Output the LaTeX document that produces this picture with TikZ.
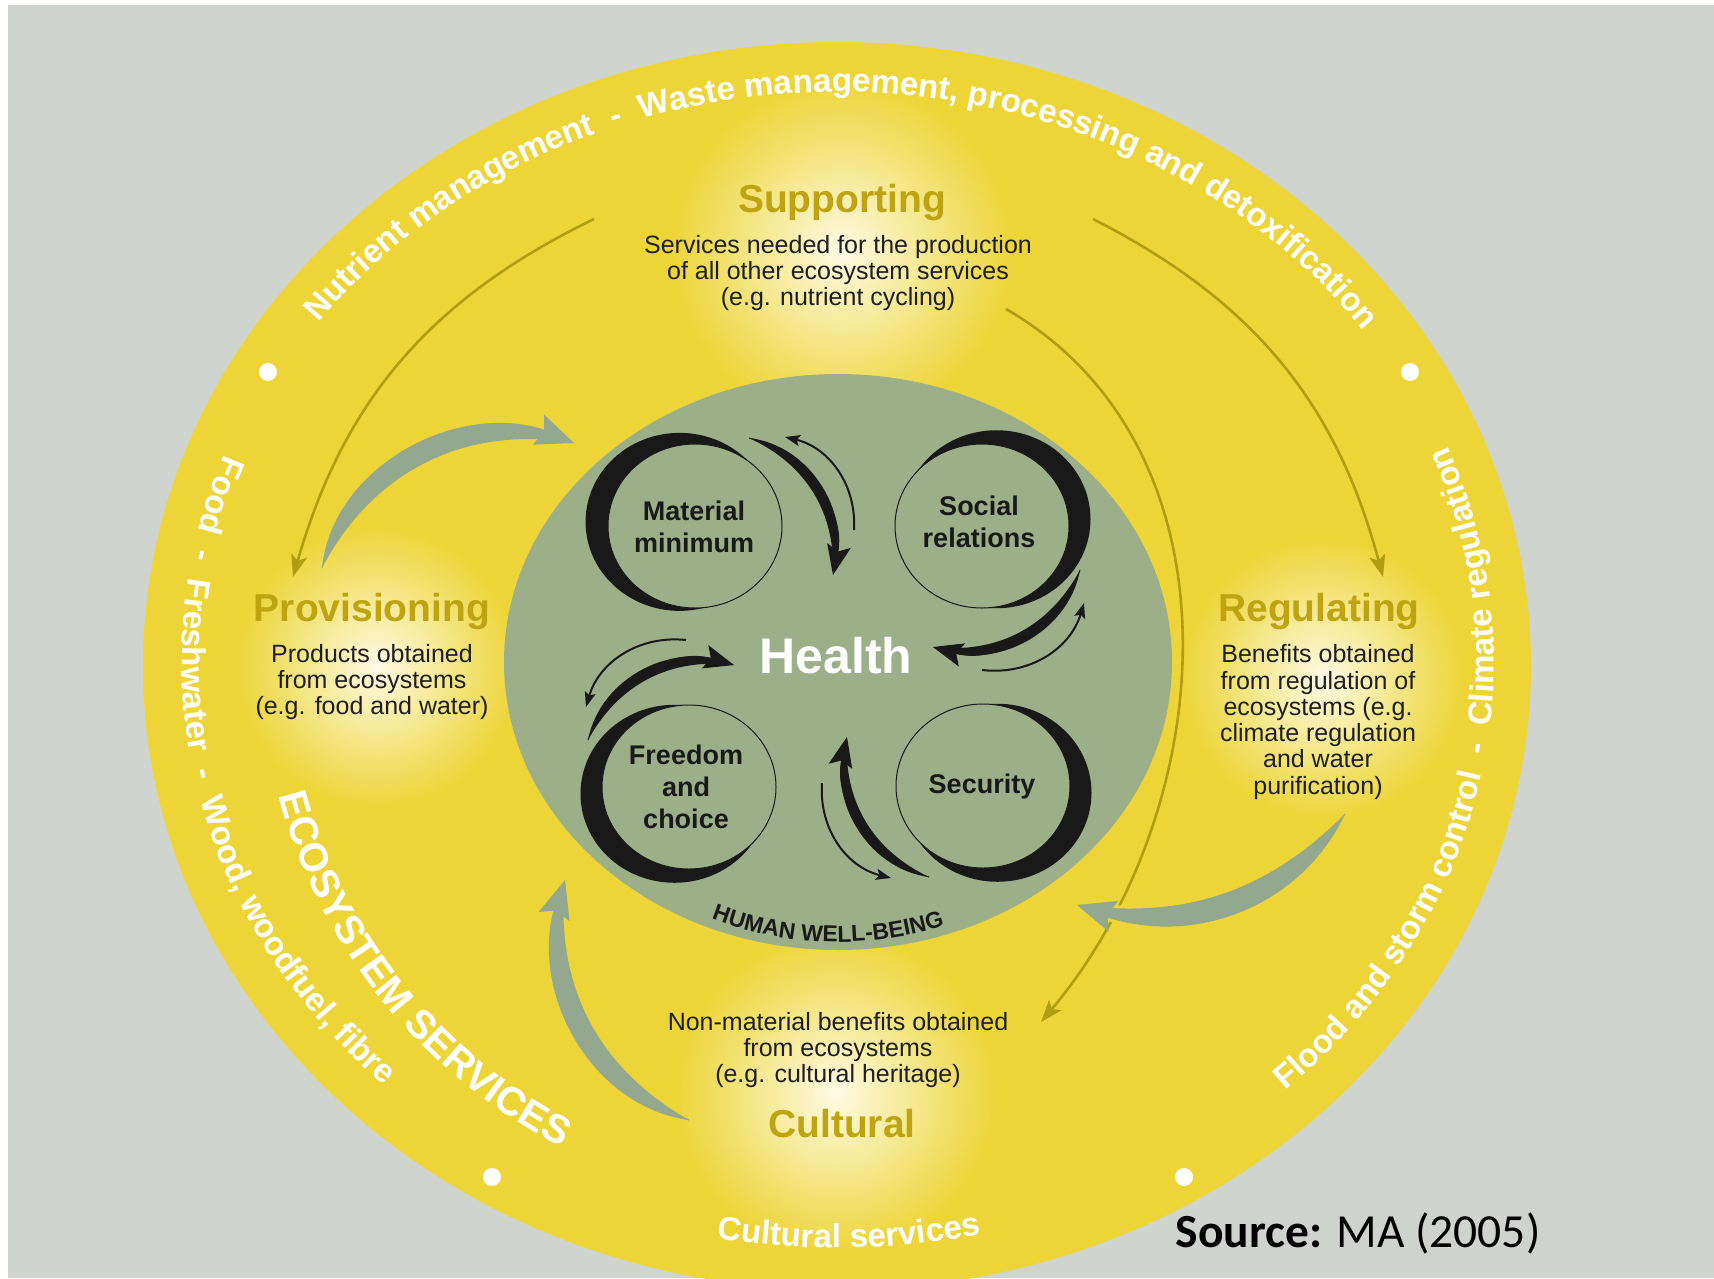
\documentclass[tikz,border=0pt]{standalone}
\usepackage{fontspec}
\setmainfont{Liberation Sans}
\newfontfamily\sourcefont{Carlito}
\usetikzlibrary{arrows.meta,decorations.text}

\definecolor{page gray}{RGB}{207,211,205}
\definecolor{ring yellow}{RGB}{237,213,56}
\definecolor{glow}{RGB}{254,250,228}
\definecolor{wellbeing green}{RGB}{156,175,136}
\definecolor{flow green}{RGB}{147,168,142}
\definecolor{service line}{RGB}{178,157,18}
\definecolor{service head}{RGB}{190,164,16}

\def\outerring{(837,-666) ellipse [x radius=694, y radius=624]}
\def\wellbeing{(838,-662) ellipse [x radius=334, y radius=288]}

\newcommand\headfont{\bfseries\fontsize{39}{42}\selectfont}
\newcommand\blurbfont{\fontsize{25}{26.3}\selectfont}
\newcommand\ringfont{\bfseries\fontsize{33}{36}\selectfont}
\newcommand\wbfont{\bfseries\fontsize{27}{32}\selectfont}

% tapered arrow: colour, tail, tip, outer bend, inner bend, head length, head width
\newcommand\taper[7]{%
  \pgfmathsetmacro\midbend{(#4+#5)/2}
  \fill[#1] (#2) to[bend left=#4] (#3) to[bend right=#5] (#2);
  \draw[#1, line width=1pt, -{Stealth[length=#6, width=#7, inset=6pt]}] (#2) to[bend left=\midbend] (#3);
}

\tikzset{heading/.style={text=service head, font=\headfont},
    blurb/.style={text=black!88, font=\blurbfont, align=center},
    wblabel/.style={text=black!90, font=\wbfont, align=center},
    service/.style={draw=service line, line width=2.6pt, -{Stealth[length=22pt, width=16pt, inset=5pt]}},
    backflow/.style={draw=black!90, line width=2pt, -{Stealth[length=15pt, width=11pt, inset=3pt]}},
    ringtext/.style={decorate, decoration={text along path, text align=center, text={|\ringfont\color{white}|#1}}}}

\begin{document}
\begin{tikzpicture}[x=1pt, y=1pt]

    \useasboundingbox (0,0) rectangle (1714,-1278);
    \fill[white] (0,0) rectangle (1714,-1278);
    \fill[page gray] (8,-5) rectangle (1714,-1278);

    \fill[ring yellow] \outerring;
    \foreach \x/\y/\r in {842/251/170, 377/667/140, 1323/678/140, 836/1093/160}
        \shade[inner color=glow, outer color=ring yellow] (\x,-\y) circle (\r);
    \fill[wellbeing green] \wellbeing;

    % supporting services feed the other three
    \coordinate (sup-l) at (594,-219);
    \coordinate (sup-r) at (1093,-219);
    \coordinate (sup-c) at (1006,-309);
    \coordinate (prov-in) at (293,-577);
    \coordinate (reg-in) at (1383,-577);
    \coordinate (cult-in) at (1041,-1022);
    \draw[service] (sup-l) to[bend right=24] (prov-in);
    \draw[service] (sup-r) to[bend left=24] (reg-in);
    \draw[service] (sup-c) to[out=-30, in=50] (cult-in);

    % services flowing into well-being
    \coordinate (prov-out) at (322,-568);
    \coordinate (prov-hwb) at (574,-443);
    \coordinate (reg-out) at (1345,-814);
    \coordinate (reg-hwb) at (1077,-905);
    \coordinate (cult-out) at (689,-1120);
    \coordinate (cult-hwb) at (565,-880);
    \taper{flow green}{prov-out}{prov-hwb}{58}{36}{38pt}{32pt}
    \filldraw[ring yellow, line width=6pt] (reg-out) to[bend left=46] (reg-hwb) to[bend right=26] (reg-out);
    \taper{flow green}{reg-out}{reg-hwb}{46}{26}{38pt}{32pt}
    \taper{flow green}{cult-out}{cult-hwb}{55}{33}{38pt}{32pt}

    \foreach \p in {(268,-372), (1410,-372), (492,-1177), (1184,-1177)}
        \fill[white] \p circle (9);

    % constituents of well-being
    \foreach \c/\x/\y/\a in {mm/695/526/165, sr/982/526/25, fc/689/787/205, se/983/786/-25} {
        \coordinate (\c) at (\x,-\y);
        \fill[black!90] ([shift={(\a:16)}]\c) ellipse [x radius=94, y radius=89];
        \filldraw[fill=wellbeing green, draw=black!90, line width=1pt] (\c) ellipse [x radius=87, y radius=82];
    }
    \node[wblabel] (mm-txt) at (694,-527) {Material\\minimum};
    \node[wblabel] (sr-txt) at (979,-522) {Social\\relations};
    \node[wblabel] (fc-txt) at (686,-787) {Freedom\\and\\choice};
    \node[wblabel] (se-txt) at (982,-787) {Security};

    \coordinate (mm-a) at (749,-438);  \coordinate (mm-b) at (833,-575);
    \coordinate (sr-a) at (1080,-570); \coordinate (sr-b) at (933,-647);
    \coordinate (fc-a) at (588,-740);  \coordinate (fc-b) at (734,-665);
    \coordinate (se-a) at (929,-877);  \coordinate (se-b) at (847,-737);
    \taper{black!90}{mm-a}{mm-b}{52}{34}{30pt}{24pt}
    \taper{black!90}{sr-a}{sr-b}{52}{34}{30pt}{24pt}
    \taper{black!90}{fc-a}{fc-b}{52}{34}{30pt}{24pt}
    \taper{black!90}{se-a}{se-b}{52}{34}{30pt}{24pt}

    \coordinate (mm-c) at (854,-530);  \coordinate (mm-d) at (785,-437);
    \coordinate (sr-c) at (982,-670);  \coordinate (sr-d) at (1084,-603);
    \coordinate (fc-c) at (686,-640);  \coordinate (fc-d) at (586,-707);
    \coordinate (se-c) at (822,-783);  \coordinate (se-d) at (891,-878);
    \draw[backflow] (mm-c) to[bend right=40] (mm-d);
    \draw[backflow] (sr-c) to[bend right=40] (sr-d);
    \draw[backflow] (fc-c) to[bend right=40] (fc-d);
    \draw[backflow] (se-c) to[bend right=40] (se-d);

    \node[text=white, font=\bfseries\fontsize{50}{55}\selectfont] (health) at (836,-656) {Health};
    \path[decorate, decoration={text along path, text align=center,
        text={|\bfseries\fontsize{23}{25}\selectfont\color{black!90}|HUMAN WELL-BEING}}]
        (838,-662) ++(230:318 and 280) arc[start angle=230, end angle=306, x radius=318, y radius=280];

    % the four service groups
    \node[heading] (sup) at (842,-202) {Supporting};
    \node[blurb] (sup-txt) at (838,-273) {Services needed for the production\\of all other ecosystem services\\(e.g. nutrient cycling)};
    \node[heading] (prov) at (372,-611) {Provisioning};
    \node[blurb] (prov-txt) at (372,-682) {Products obtained\\from ecosystems\\(e.g. food and water)};
    \node[heading] (reg) at (1319,-611) {Regulating};
    \node[blurb] (reg-txt) at (1318,-722) {Benefits obtained\\from regulation of\\ecosystems (e.g.\\climate regulation\\and water\\purification)};
    \node[blurb] (cult-txt) at (838,-1050) {Non-material benefits obtained\\from ecosystems\\(e.g. cultural heritage)};
    \node[heading] (cult) at (842,-1124) {Cultural};

    % words round the ring
    \path[ringtext={Nutrient management\ \ -\ \ Waste management, processing and detoxification}]
        (838,-662) ++(150:646 and 570) arc[start angle=150, end angle=29, x radius=646, y radius=570];
    \path[ringtext={Food\ \ -\ \ Freshwater\ \ -\ \ Wood, woodfuel, fibre}]
        (838,-662) ++(150:656 and 586) arc[start angle=150, end angle=235, x radius=656, y radius=586];
    \path[ringtext={Flood and storm control\ \ -\ \ Climate regulation}]
        (838,-662) ++(-55:656 and 586) arc[start angle=-55, end angle=30, x radius=656, y radius=586];
    \path[ringtext={Cultural services}]
        (838,-662) ++(245:656 and 586) arc[start angle=245, end angle=297, x radius=656, y radius=586];
    \path[decorate, decoration={text along path, text align=center,
        text={|\bfseries\fontsize{40}{42}\selectfont\color{white}|ECOSYSTEM SERVICES}}]
        (838,-662) ++(185:576 and 553) arc[start angle=185, end angle=250, x radius=576, y radius=553];

    \node[font=\sourcefont\fontsize{47.5}{50}\selectfont] (source) at (1358,-1233) {\textbf{Source:} MA (2005)};

\end{tikzpicture}
\end{document}
